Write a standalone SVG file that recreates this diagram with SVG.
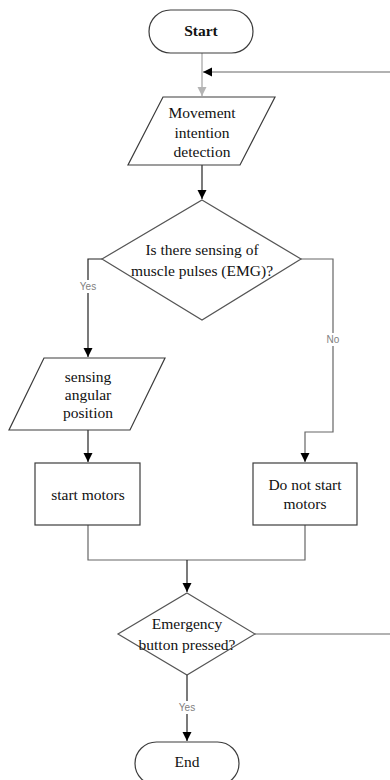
<svg xmlns="http://www.w3.org/2000/svg" width="390" height="780" viewBox="0 0 390 780">
  <style>
    .shape { fill: #ffffff; stroke: #3c3c3c; stroke-width: 1.2; }
    .dia { fill: #ffffff; stroke: #555555; stroke-width: 1.2; }
    .txt { font-family: "Liberation Serif", "Times New Roman", serif; font-size: 15.5px; fill: #111111; text-anchor: middle; }
    .bold { font-weight: bold; }
    .wire { fill: none; stroke: #222222; stroke-width: 1.2; }
    .wire-grey { fill: none; stroke: #666666; stroke-width: 1.2; }
    .wire-light { fill: none; stroke: #b4b4b4; stroke-width: 1.5; }
    .lbl { font-family: "Liberation Sans", Arial, sans-serif; font-size: 10px; fill: #808080; text-anchor: middle; }
    .lblbg { fill: #ffffff; }
  </style>
  <defs>
    <marker id="ah" markerWidth="10" markerHeight="10" refX="9" refY="5" orient="auto" markerUnits="userSpaceOnUse">
      <path d="M0,0.5 L9,5 L0,9.5 Z" fill="#000000"/>
    </marker>
    <marker id="ah-light" markerWidth="10" markerHeight="10" refX="9" refY="5" orient="auto" markerUnits="userSpaceOnUse">
      <path d="M0,0.5 L9,5 L0,9.5 Z" fill="#b4b4b4"/>
    </marker>
  </defs>

  <g id="connectors">
    <!-- start to input -->
    <path class="wire-light" d="M202,53 V96" marker-end="url(#ah-light)"/>
    <!-- loop back from emergency check -->
    <path class="wire-grey" d="M390,72 H203" marker-end="url(#ah)"/>
    <!-- input to decision -->
    <path class="wire" d="M202,165 V199" marker-end="url(#ah)"/>
    <!-- yes branch -->
    <path class="wire" d="M102,259 H88 V357" marker-end="url(#ah)"/>
    <!-- no branch -->
    <path class="wire-grey" d="M301,259 H333 V432 H305 V462" marker-end="url(#ah)"/>
    <!-- sensing to start motors -->
    <path class="wire" d="M88,430 V462" marker-end="url(#ah)"/>
    <!-- merge -->
    <path class="wire-grey" d="M88,525 V560 H305 V525"/>
    <path class="wire" d="M187,560 V592" marker-end="url(#ah)"/>
    <!-- emergency no: back to top -->
    <path class="wire-grey" d="M255,634 H390"/>
    <!-- emergency yes -->
    <path class="wire" d="M187,675 V741" marker-end="url(#ah)"/>
    <!-- labels -->
    <rect class="lblbg" x="78" y="280" width="20" height="13"/>
    <text class="lbl" x="88" y="290">Yes</text>
    <rect class="lblbg" x="324" y="333" width="18" height="13"/>
    <text class="lbl" x="333" y="343">No</text>
    <rect class="lblbg" x="177" y="701" width="20" height="13"/>
    <text class="lbl" x="187" y="711">Yes</text>
  </g>

  <g id="start">
    <rect class="shape" x="149" y="10" width="104" height="43" rx="21.5" ry="21.5"/>
    <text class="txt bold" x="201" y="36">Start</text>
  </g>

  <g id="movement-intention">
    <polygon class="shape" points="163,97 275,97 240,165 128,165"/>
    <text class="txt" x="202" y="118">Movement</text>
    <text class="txt" x="202" y="138">intention</text>
    <text class="txt" x="202" y="157">detection</text>
  </g>

  <g id="emg-check">
    <polygon class="dia" points="202,200 301,259 202,320 102,259"/>
    <text class="txt" x="202" y="255">Is there sensing of</text>
    <text class="txt" x="202" y="276">muscle pulses (EMG)?</text>
  </g>

  <g id="angular-position">
    <polygon class="shape" points="44,358 165,358 130,430 9,430"/>
    <text class="txt" x="88" y="382">sensing</text>
    <text class="txt" x="88" y="400">angular</text>
    <text class="txt" x="88" y="418">position</text>
  </g>

  <g id="start-motors">
    <rect class="shape" x="35" y="463" width="105" height="62"/>
    <text class="txt" x="88" y="500">start motors</text>
  </g>

  <g id="no-motors">
    <rect class="shape" x="253" y="463" width="104" height="62"/>
    <text class="txt" x="305" y="490">Do not start</text>
    <text class="txt" x="305" y="509">motors</text>
  </g>

  <g id="emergency">
    <polygon class="dia" points="187,593 255,634 187,675 118,634"/>
    <text class="txt" x="187" y="629">Emergency</text>
    <text class="txt" x="187" y="650">button pressed?</text>
  </g>

  <g id="end">
    <rect class="shape" x="135" y="742" width="104" height="43" rx="21.5" ry="21.5"/>
    <text class="txt" x="187" y="767">End</text>
  </g>
</svg>
